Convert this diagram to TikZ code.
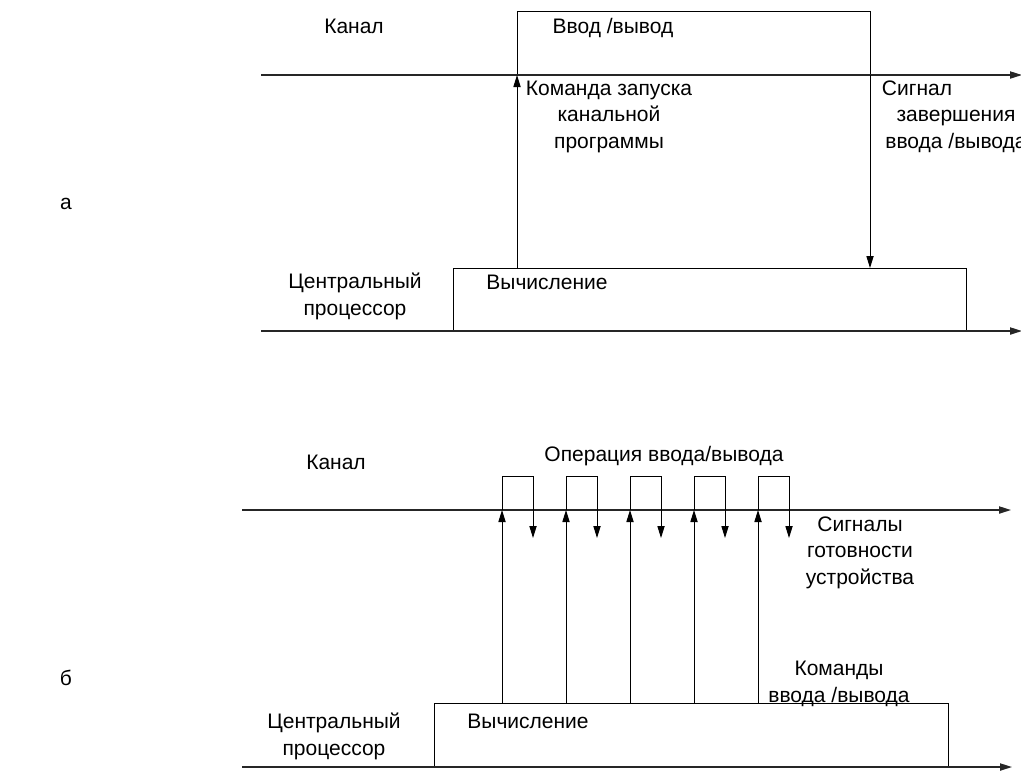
\documentclass[tikz,border=0pt]{standalone}
\usepackage{fontspec}
\setmainfont{Liberation Sans}
\usetikzlibrary{arrows.meta, positioning, calc}
\tikzset{
	lbl/.style ={font=\fontsize{10.5}{13.2}\selectfont, align=center, inner sep=0pt, anchor=base},
	box/.style ={rectangle, draw=black, line width=0.5pt, inner sep=0pt, outer sep=0pt},
	axis/.style={-{Triangle[length=6pt, width=3.6pt]}, line width=0.7pt, draw=black!85},
	sig/.style ={-{Triangle[length=6pt, width=3.6pt]}, line width=0.5pt},
}

\begin{document}
\begin{tikzpicture}[x=0.5pt, y=-0.5pt]
	\useasboundingbox (0,0) rectangle (1021,773);
	\clip (0,0) rectangle (1021,773);
	% a
	\node[lbl] (pa) at (66,209) {а};
	\node[box, minimum width=176.5pt, minimum height=32pt] (io) at (693.5,43) {};
	\node[box, minimum width=256.5pt, minimum height=31.5pt] (cpu1) at (709.5,299.5) {};
	\coordinate (ka0) at (261,75);
	\coordinate (ka1) at (1022,75);
	\coordinate (pr0) at (261,331);
	\coordinate (pr1) at (1022,331);
	\draw[axis] (ka0) -- (ka1);
	\draw[axis] (pr0) -- (pr1);
	\node[lbl] (kan1) at (354,33) {Канал};
	\node[lbl] (iot) at (613,33) {Ввод /вывод};
	\node[lbl] (cmd) at (609,148) {Команда запуска\\канальной\\программы};
	\node[lbl] (fin) at (956,148) {Сигнал\hspace*{39pt}\\завершения\\ввода /вывода};
	\node[lbl] (cp1) at (355,315) {Центральный\\процессор};
	\node[lbl] (calc1) at (547,289) {Вычисление};
	\draw[sig] (cpu1.north -| io.west) -- (io.south west);
	\draw[sig] (io.south east) -- (cpu1.north -| io.east);
	% b
	\node[lbl] (pb) at (66,685) {б};
	\node[box, minimum width=257pt, minimum height=32pt] (cpu2) at (691,735) {};
	\coordinate (kb0) at (242,510);
	\coordinate (kb1) at (1011,510);
	\coordinate (pq0) at (242,767);
	\coordinate (pq1) at (1012,767);
	\draw[axis] (kb0) -- (kb1);
	\draw[axis] (pq0) -- (pq1);
	\node[lbl] (kan2) at (336,469) {Канал};
	\node[lbl] (op) at (664,461) {Операция ввода/вывода};
	\node[lbl] (rdy) at (860,584) {Сигналы\\готовности\\устройства};
	\node[lbl] (cmds) at (839,702) {Команды\\ввода /вывода};
	\node[lbl] (cp2) at (334,755) {Центральный\\процессор};
	\node[lbl] (calc2) at (528,728) {Вычисление};
	\foreach \i in {0,...,4} {
		\pgfmathsetmacro{\xu}{502+64*\i}
		\coordinate (up\i) at (\xu,510);
		\coordinate (top\i) at (\xu+31,476);
		\coordinate (dn\i) at (\xu+31,538);
		\draw[sig] (cpu2.north -| up\i) -- (up\i);
		\draw[sig] (up\i) |- (top\i) -- (dn\i);
	}
\end{tikzpicture}
\end{document}
